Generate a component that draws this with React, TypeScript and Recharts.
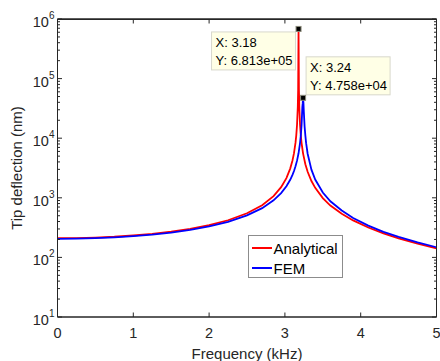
import {
  CartesianGrid,
  Legend,
  Line,
  LineChart,
  ReferenceArea,
  ReferenceDot,
  ReferenceLine,
  XAxis,
  YAxis,
} from 'recharts'

// frequency (kHz) and tip deflection (nm)
const analyticalFreq = [
  0, 0.25, 0.5, 0.75, 1, 1.25, 1.5, 1.75, 2, 2.25, 2.5, 2.7, 2.85, 2.95, 3.02,
  3.07, 3.1, 3.12, 3.14, 3.15, 3.16, 3.17, 3.175, 3.18, 3.185, 3.19, 3.2, 3.21,
  3.22, 3.24, 3.27, 3.3, 3.35, 3.4, 3.5, 3.6, 3.75, 3.9, 4.1, 4.3, 4.5, 4.75, 5,
]
const analyticalDefl = [
  210, 211, 215, 222, 233, 248, 270, 301, 347, 420, 550, 752, 1067, 1506, 2141,
  3088, 4225, 5615, 8400, 11180, 16750, 33440, 66900, 681300, 66750, 33330,
  16640, 11075, 8294, 5512, 3658, 2731, 1913, 1469, 991, 742, 538, 417, 317, 253,
  209, 171, 142,
]

const femFreq = [
  0, 0.25, 0.5, 0.75, 1, 1.25, 1.5, 1.75, 2, 2.25, 2.5, 2.7, 2.85, 2.95, 3.02,
  3.07, 3.1, 3.12, 3.14, 3.16, 3.18, 3.2, 3.21, 3.22, 3.23, 3.235, 3.24, 3.245,
  3.25, 3.26, 3.27, 3.28, 3.3, 3.35, 3.4, 3.5, 3.6, 3.75, 3.9, 4.1, 4.3, 4.5,
  4.75, 5,
]
const femDefl = [
  205, 206, 210, 217, 227, 241, 261, 289, 331, 396, 507, 671, 906, 1199, 1563,
  2006, 2424, 2820, 3373, 4204, 5586, 8354, 11120, 16650, 33280, 38700, 47580,
  38660, 27200, 15640, 11020, 8253, 5484, 2968, 2026, 1228, 873, 612, 457, 341,
  269, 221, 178, 148,
]

const xTicks = [0, 1, 2, 3, 4, 5]
const yDecades = [1, 2, 3, 4, 5, 6]

const tipAnalytical = { x: 3.18, y: 6.813e5 }
const tipFem = { x: 3.24, y: 4.758e4 }

const analyticalData = analyticalFreq.map((f, i) => ({ f, v: analyticalDefl[i] }))
const femData = femFreq.map((f, i) => ({ f, v: femDefl[i] }))

const yTicks: number[] = []
yDecades.forEach(d => {
  if (d === 6) {
    yTicks.push(1e6)
    return
  }
  for (let m = 1; m <= 9; m++) yTicks.push(m * Math.pow(10, d))
})

const FONT = '"Liberation Sans", Arial, Helvetica, sans-serif'
const AXIS = '#262626'
const L = 57.5
const R = 436.5
const T = 19
const B = 317

const isMajor = (v: number) => {
  const e = Math.log10(v)
  return Math.abs(e - Math.round(e)) < 1e-9
}

const fmtExp = (v: number) => {
  const [m, e] = v.toExponential(3).split('e')
  const n = Math.abs(Number(e))
  return `${m}e${Number(e) < 0 ? '-' : '+'}${n < 10 ? '0' : ''}${n}`
}

function LeftTick({ y, payload }: any) {
  const v = payload.value
  const major = isMajor(v)
  return (
    <g>
      <line x1={L} x2={L + (major ? 4.5 : 2.5)} y1={y} y2={y} stroke={AXIS} />
      {major && (
        <text x={L - 3} y={y + 8} textAnchor='end' fontSize={14.5} fill={AXIS} fontFamily={FONT}>
          10
          <tspan dy={-8} fontSize={10}>
            {Math.round(Math.log10(v))}
          </tspan>
        </text>
      )}
    </g>
  )
}

function BottomTick({ x, payload }: any) {
  return (
    <g>
      <line x1={x} x2={x} y1={B} y2={B - 4.5} stroke={AXIS} />
      <text x={x} y={B + 20.5} textAnchor='middle' fontSize={14.5} fill={AXIS} fontFamily={FONT}>
        {payload.value}
      </text>
    </g>
  )
}

// tick marks on the top edge (x ticks) and right edge (y ticks)
function TopTickShape({ x1, y1, y2 }: any) {
  const top = Math.min(y1, y2)
  return <line x1={x1} x2={x1} y1={top} y2={top + 4.5} stroke={AXIS} />
}

function rightTickShape(major: boolean) {
  return ({ x1, x2, y1 }: any) => {
    const right = Math.max(x1, x2)
    return <line x1={right} x2={right - (major ? 4.5 : 2.5)} y1={y1} y2={y1} stroke={AXIS} />
  }
}

function DataTip({ cx, cy, tip, dx, dy }: any) {
  const bx = cx + dx
  const by = cy + dy
  return (
    <g fontFamily={FONT} fontSize={13} fill='#000'>
      <rect x={bx} y={by} width={84} height={38} fill='#ffffe6' stroke='#d8d8cc' />
      <text x={bx + 4} y={by + 15.5}>X: {tip.x}</text>
      <text x={bx + 4} y={by + 33.5}>Y: {fmtExp(tip.y)}</text>
      <rect x={cx - 2.5} y={cy - 2.5} width={5} height={5} fill='#000' stroke='#8a8a7a' />
    </g>
  )
}

function LegendBox({ payload }: any) {
  return (
    <div
      style={{
        boxSizing: 'border-box',
        width: 95,
        height: 43,
        border: '1px solid #8c8c8c',
        background: '#fff',
        padding: '2px 0 0 3px',
        fontFamily: FONT,
        fontSize: 15,
        color: '#000',
      }}
    >
      {(payload || []).map((p: any) => (
        <div key={p.value} style={{ display: 'flex', alignItems: 'center', height: 20 }}>
          <span style={{ width: 20, height: 2, background: p.color, marginRight: 2 }} />
          {p.value}
        </div>
      ))}
    </div>
  )
}

export default function App() {
  return (
    <div style={{ position: 'absolute', left: 0, top: 0, width: 440, height: 361, background: '#fff' }}>
      <LineChart width={440} height={361} margin={{ top: T, right: 440 - R, bottom: 0, left: 0 }}>
        {/* box frame: top and right edges of the plot area */}
        <CartesianGrid
          xAxisId='b'
          yAxisId='l'
          stroke={AXIS}
          horizontalCoordinatesGenerator={({ offset }: any) => [offset.top]}
          verticalCoordinatesGenerator={({ offset }: any) => [offset.left + offset.width]}
        />
        <XAxis
          xAxisId='b'
          dataKey='f'
          type='number'
          domain={[0, 5]}
          allowDataOverflow
          ticks={xTicks}
          interval={0}
          height={361 - B}
          tickSize={0}
          tickLine={false}
          tick={<BottomTick />}
          axisLine={{ stroke: AXIS }}
          label={{
            content: () => (
              <text x={(L + R) / 2} y={358.5} textAnchor='middle' fontSize={15} fill={AXIS} fontFamily={FONT}>
                Frequency (kHz)
              </text>
            ),
          }}
        />
        <YAxis
          yAxisId='l'
          type='number'
          scale='log'
          domain={[10, 1e6]}
          allowDataOverflow
          ticks={yTicks}
          interval={0}
          width={L}
          tickSize={0}
          tickLine={false}
          tick={<LeftTick />}
          axisLine={{ stroke: AXIS }}
          label={{
            content: () => (
              <text
                x={22}
                y={(T + B) / 2}
                transform={`rotate(-90 22 ${(T + B) / 2})`}
                textAnchor='middle'
                fontSize={15}
                fill={AXIS}
                fontFamily={FONT}
              >
                Tip deflection (nm)
              </text>
            ),
          }}
        />
        <ReferenceArea
          xAxisId='b'
          yAxisId='l'
          x1={0}
          x2={5}
          y1={10}
          y2={1e6}
          fill='none'
          fillOpacity={0}
          stroke={AXIS}
          strokeOpacity={1}
          ifOverflow='visible'
        />
        {xTicks.map(t => (
          <ReferenceLine
            key={`xt${t}`}
            xAxisId='b'
            yAxisId='l'
            x={t}
            ifOverflow='visible'
            shape={TopTickShape}
          />
        ))}
        {yTicks.map(v => (
          <ReferenceLine
            key={`yt${v}`}
            xAxisId='b'
            yAxisId='l'
            y={v}
            ifOverflow='visible'
            shape={rightTickShape(isMajor(v))}
          />
        ))}
        <Line
          xAxisId='b'
          yAxisId='l'
          data={analyticalData}
          dataKey='v'
          name='Analytical'
          type='linear'
          stroke='#ff0000'
          strokeWidth={1.8}
          dot={false}
          isAnimationActive={false}
        />
        <Line
          xAxisId='b'
          yAxisId='l'
          data={femData}
          dataKey='v'
          name='FEM'
          type='linear'
          stroke='#0000ff'
          strokeWidth={1.8}
          dot={false}
          isAnimationActive={false}
        />
        <ReferenceDot
          xAxisId='b'
          yAxisId='l'
          x={tipAnalytical.x}
          y={tipAnalytical.y}
          shape={(p: any) => <DataTip {...p} tip={tipAnalytical} dx={-87} dy={3} />}
        />
        <ReferenceDot
          xAxisId='b'
          yAxisId='l'
          x={tipFem.x}
          y={tipFem.y}
          shape={(p: any) => <DataTip {...p} tip={tipFem} dx={3} dy={-41} />}
        />
        <Legend
          layout='horizontal'
          verticalAlign='middle'
          align='center'
          content={<LegendBox />}
          wrapperStyle={{ left: 247.5, top: 235, width: 95, height: 43 }}
        />
      </LineChart>
      {/* top and right edges of the axes box */}
      <div
        style={{
          position: 'absolute',
          left: L,
          top: T - 0.5,
          width: R - L + 0.5,
          height: B - T + 0.5,
          boxSizing: 'border-box',
          borderTop: `1px solid ${AXIS}`,
          borderRight: `1px solid ${AXIS}`,
          pointerEvents: 'none',
        }}
      />
    </div>
  )
}
